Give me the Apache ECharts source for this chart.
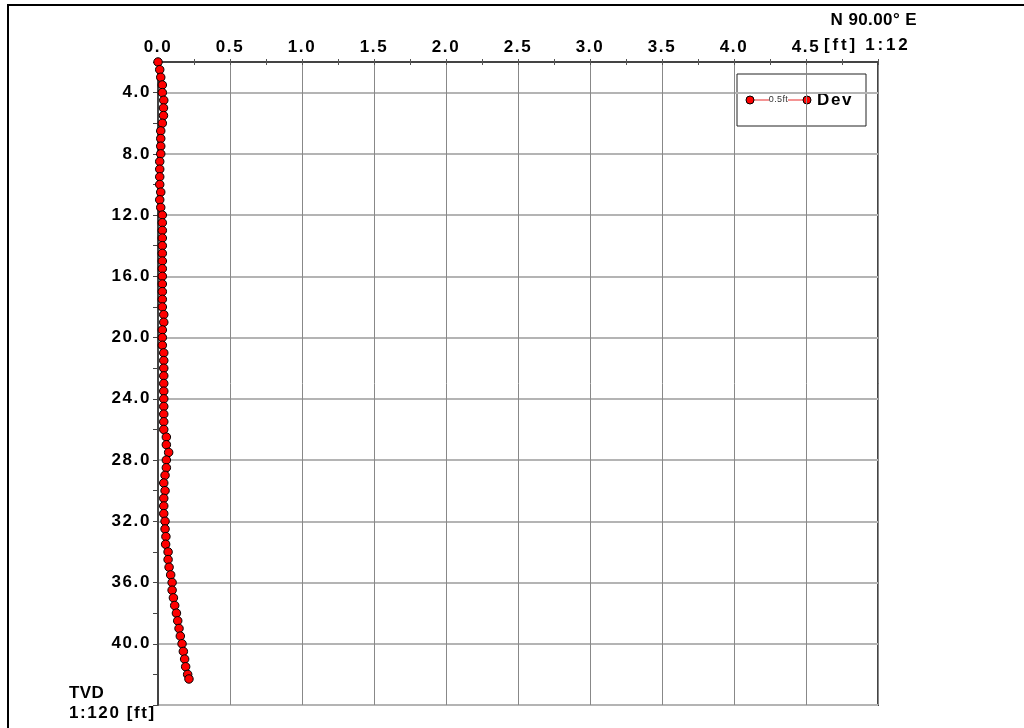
<!DOCTYPE html>
<html><head><meta charset="utf-8">
<script src="https://cdn.jsdelivr.net/npm/echarts@6/dist/echarts.min.js"></script>
<style>html,body{margin:0;padding:0;background:#fff}#c{width:1024px;height:728px}</style>
</head><body><div id="c"></div>
<script>
// True vertical depth (ft)
const tvd = [2.0,2.5,3.0,3.5,4.0,4.5,5.0,5.5,6.0,6.5,7.0,7.5,8.0,8.5,9.0,9.5,10.0,10.5,11.0,11.5,
  12.0,12.5,13.0,13.5,14.0,14.5,15.0,15.5,16.0,16.5,17.0,17.5,18.0,18.5,19.0,19.5,20.0,20.5,21.0,21.5,
  22.0,22.5,23.0,23.5,24.0,24.5,25.0,25.5,26.0,26.5,27.0,27.5,28.0,28.5,29.0,29.5,30.0,30.5,31.0,31.5,
  32.0,32.5,33.0,33.5,34.0,34.5,35.0,35.5,36.0,36.5,37.0,37.5,38.0,38.5,39.0,39.5,40.0,40.5,41.0,41.5,
  42.0,42.3];
// Deviation N 90.00° E (ft)
const dev = [0.000,0.012,0.019,0.030,0.030,0.040,0.038,0.038,0.030,0.019,0.019,0.019,0.019,0.012,0.012,0.012,0.012,0.019,0.012,0.019,
  0.030,0.030,0.030,0.030,0.030,0.030,0.030,0.030,0.030,0.030,0.030,0.030,0.030,0.040,0.040,0.030,0.030,0.030,0.040,0.040,
  0.040,0.040,0.040,0.040,0.040,0.040,0.040,0.040,0.040,0.058,0.058,0.074,0.058,0.058,0.049,0.040,0.049,0.040,0.040,0.040,
  0.049,0.049,0.055,0.053,0.070,0.070,0.077,0.088,0.098,0.098,0.107,0.116,0.128,0.137,0.146,0.155,0.167,0.176,0.185,0.192,
  0.206,0.215];
const xTickLabels = ['0.0','0.5','1.0','1.5','2.0','2.5','3.0','3.5','4.0','4.5'];
const yTickLabels = ['4.0','8.0','12.0','16.0','20.0','24.0','28.0','32.0','36.0','40.0'];
const seriesName = 'Dev';

// Spaced bold font (GDI-like letter spacing) vs plain font
const FONT = "'Liberation Sans', Arial, sans-serif";
const FONT_WIDE = "'Liberation Sans', Verdana, sans-serif";
const FONT_PLAIN = "'Liberation Sans', Helvetica, sans-serif";
(function(){
  try {
    const P = CanvasRenderingContext2D.prototype;
    const d = Object.getOwnPropertyDescriptor(P, 'font');
    if (d && d.set && ('letterSpacing' in P)) {
      Object.defineProperty(P, 'font', {
        configurable:true,
        get(){ return d.get.call(this); },
        set(v){
          d.set.call(this, v);
          try {
            this.letterSpacing = /Arial/.test(v) ? '1.6px' : (/Verdana/.test(v) ? '2.8px' : (/Helvetica/.test(v) ? '0.4px' : '0px'));
          } catch(e){}
        }
      });
    }
  } catch(e){}
})();

function labelFor(list, v){
  for (const s of list){ if (Math.abs(parseFloat(s) - v) < 1e-6) return s; }
  return '';
}
const data = tvd.map((t,i)=>[dev[i], t]);

const chart = echarts.init(document.getElementById('c'), null, {renderer:'canvas'});
chart.setOption({
  animation:false,
  backgroundColor:'#fff',
  grid:{left:158, top:62, right:146, bottom:23, show:true, borderColor:'#444', borderWidth:2, backgroundColor:'transparent'},
  xAxis:[{
    type:'value', position:'top', min:0, max:5, interval:0.25,
    axisLine:{show:true, lineStyle:{color:'#444', width:1.5}},
    axisTick:{show:true, length:3, lineStyle:{color:'#555'}},
    axisLabel:{margin:5, fontFamily:FONT, fontWeight:'bold', fontSize:17, color:'#000',
      formatter:v=>labelFor(xTickLabels, v)},
    splitLine:{show:true, lineStyle:{color:['#888','rgba(0,0,0,0)'], width:1}}
  },{
    type:'value', position:'top', min:0, max:5, interval:0.25,
    axisLine:{show:false}, axisLabel:{show:false}, splitLine:{show:false},
    axisTick:{show:true, inside:true, length:3, lineStyle:{color:'#555'}}
  }],
  yAxis:{
    type:'value', inverse:true, min:2, max:44, interval:2,
    axisLine:{show:true, lineStyle:{color:'#444', width:2}},
    axisTick:{show:true, length:5, lineStyle:{color:'#444'}},
    axisLabel:{margin:7, fontFamily:FONT, fontWeight:'bold', fontSize:17, color:'#000',
      formatter:v=>labelFor(yTickLabels, v)},
    splitLine:{show:true, lineStyle:{color:['rgba(0,0,0,0)','#b4b4b4'], width:2}}
  },
  series:[{
    name:seriesName, type:'line', data:data, xAxisIndex:0,
    symbol:'circle', symbolSize:8.5, showSymbol:true,
    lineStyle:{color:'#ff0000', width:1},
    itemStyle:{color:'#ff0000', borderColor:'#000', borderWidth:1},
    clip:false, z:5
  }],
  graphic:[
    {type:'line', shape:{x1:7, y1:5, x2:1024, y2:5}, style:{stroke:'#000', lineWidth:2}},
    {type:'line', shape:{x1:8, y1:5, x2:8, y2:728}, style:{stroke:'#000', lineWidth:2}},
    {type:'text', x:917, y:12, style:{text:'N 90.00° E', font:"bold 17px "+FONT_PLAIN, fill:'#000', textAlign:'right', textVerticalAlign:'top'}},
    {type:'text', x:824, y:35, style:{text:'[ft] 1:12', font:"bold 17px "+FONT_WIDE, fill:'#000', textAlign:'left', textVerticalAlign:'top'}},
    {type:'text', x:69, y:685, style:{text:'TVD', font:"bold 17px "+FONT_PLAIN, fill:'#000', textVerticalAlign:'top'}},
    {type:'text', x:69, y:704, style:{text:'1:120 [ft]', font:"bold 17px "+FONT, fill:'#000', textVerticalAlign:'top'}},
    {type:'group', x:737, y:74, children:[
      {type:'rect', shape:{x:0, y:0, width:129, height:52}, style:{fill:'#fff', stroke:'#222', lineWidth:1}},
      {type:'line', shape:{x1:13, y1:26, x2:32, y2:26}, style:{stroke:'#f07070', lineWidth:1.5}},
      {type:'line', shape:{x1:51, y1:26, x2:70, y2:26}, style:{stroke:'#f07070', lineWidth:1.5}},
      {type:'circle', shape:{cx:13, cy:26, r:4}, style:{fill:'#ff0000', stroke:'#000', lineWidth:1}},
      {type:'circle', shape:{cx:70, cy:26, r:4}, style:{fill:'#ff0000', stroke:'#000', lineWidth:1}},
      {type:'text', x:41.5, y:26, style:{text:'0.5ft', font:"9px "+FONT_PLAIN, fill:'#333', textAlign:'center', textVerticalAlign:'middle'}},
      {type:'text', x:80, y:26, style:{text:seriesName, font:"bold 17px "+FONT, fill:'#000', textVerticalAlign:'middle'}}
    ]}
  ]
});
</script>
</body></html>
